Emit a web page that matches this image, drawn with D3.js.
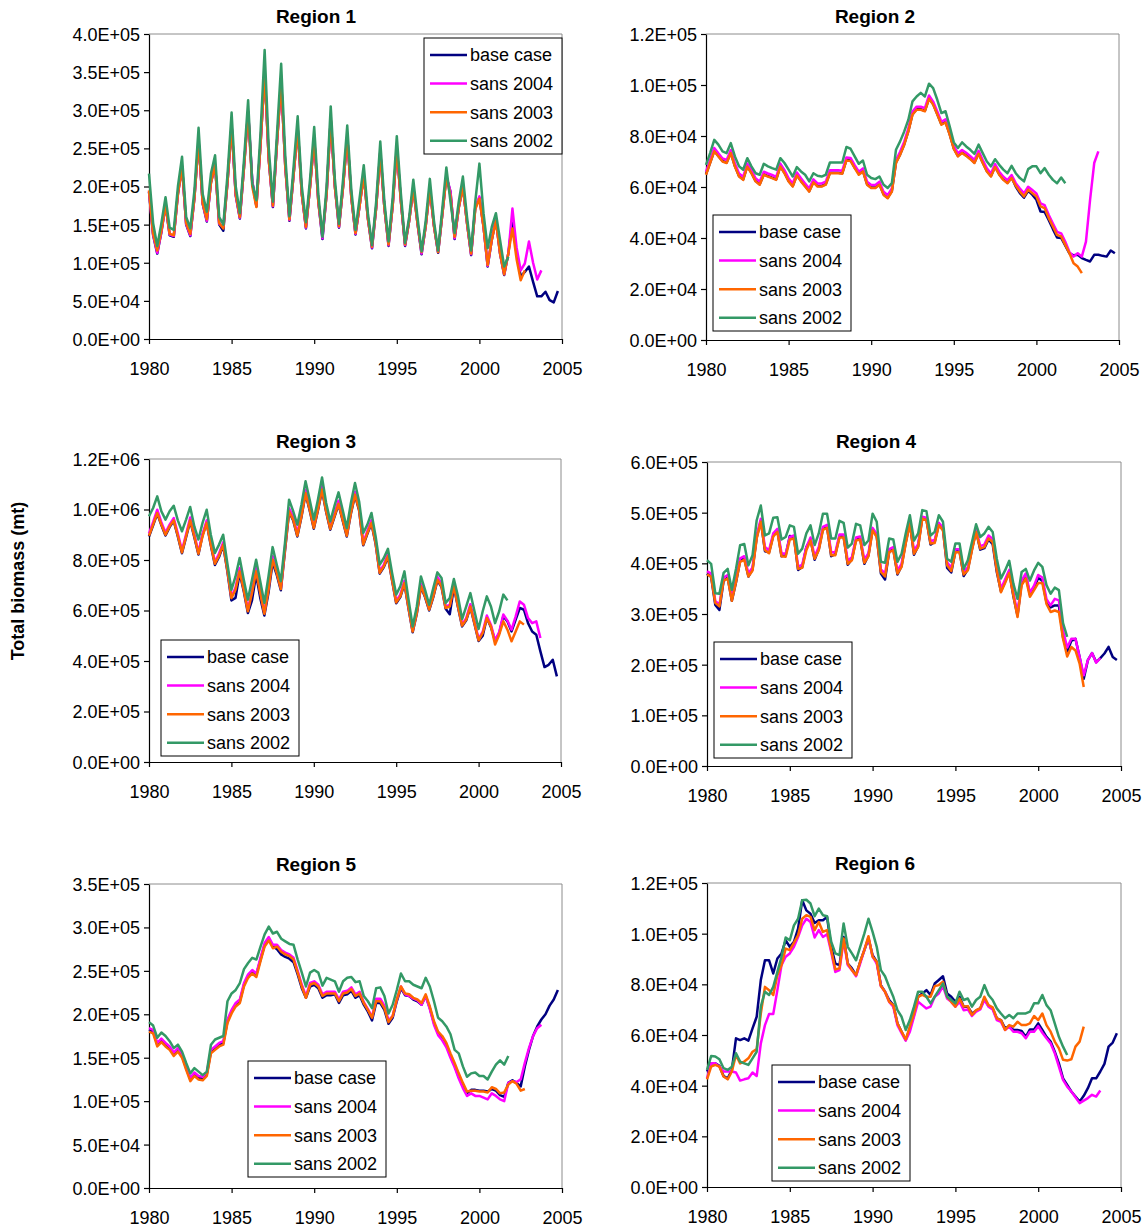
<!DOCTYPE html>
<html>
<head>
<meta charset="utf-8">
<script src="https://cdn.jsdelivr.net/npm/d3@7"></script>
<style>
  body { margin: 0; background: #fff; }
  svg { display: block; font-family: Arial, "Liberation Sans", sans-serif; }
</style>
</head>
<body>
<svg id="chart" width="1148" height="1230"></svg>
<script>
// Quarterly total biomass, thousands of mt; first value is 1980 Q1.
const startYear = 1980;
const seriesNames = ["base case", "sans 2004", "sans 2003", "sans 2002"];
const seriesColors = ["#000080", "#FF00FF", "#FF6600", "#339966"];
const xTicks = [1980, 1985, 1990, 1995, 2000, 2005];

// Region 1
const r1Base = [193,136,112,140, 176,136,134,190, 226,150,135,185, 260,177,154,205, 228,150,142,205, 280,188,158,225, 298,207,174,255, 350,235,173,258, 338,226,155,215, 276,190,145,200, 263,180,131,190, 288,200,146,200, 265,185,137,175, 215,158,119,172, 245,172,122,175, 250,180,122,155, 198,152,111,148, 198,148,113,162, 213,193,131,172, 200,152,110,172, 185,147,95,130, 156,112,84,112, 156,112,82,88, 95,75,56,56, 62,51,48,63];
const r1Sans2004 = [194,137,113,141, 177,137,135,191, 227,151,136,186, 261,178,155,206, 229,151,147,206, 281,189,159,226, 299,207,175,256, 351,236,174,259, 339,227,156,216, 277,191,146,201, 264,181,132,191, 289,201,147,201, 266,186,138,176, 216,159,120,173, 246,173,123,176, 251,181,123,156, 199,153,112,149, 199,149,114,163, 214,193,132,173, 201,153,111,173, 187,148,96,131, 157,113,85,112, 171,120,90,99, 128,100,78,90];
const r1Sans2003 = [195,138,116,142, 176,138,136,190, 226,152,138,185, 260,178,157,205, 228,152,145,205, 280,190,160,225, 298,200,173,255, 350,235,175,258, 338,226,157,215, 276,190,147,200, 263,180,136,190, 288,200,148,200, 265,185,139,175, 215,158,121,172, 244,172,124,175, 250,180,124,155, 198,152,114,148, 198,148,114,162, 212,188,134,172, 200,152,112,170, 184,147,97,130, 155,112,85,112, 145,105,77,90];
const r1Sans2002 = [217,152,122,152, 186,146,143,200, 239,160,145,195, 277,190,167,217, 241,160,150,215, 297,200,165,235, 313,204,182,270, 379,250,180,270, 361,240,161,225, 292,200,153,210, 278,190,134,200, 305,210,151,210, 280,195,143,185, 228,165,123,180, 259,180,128,185, 266,190,126,160, 209,160,115,155, 210,155,116,170, 225,180,139,180, 213,160,116,180, 230,165,119,147, 165,130,95,108];

// Region 2
const r2Base = [65.0,69.6,74.2,72.2, 70.2,69.6,73.5,68.2, 64.3,63.0,68.2,65.6, 62.4,61.1,65.0,64.3, 63.7,63.0,68.2,65.6, 62.4,60.4,64.7,62.4, 60.4,58.4,62.0,60.4, 60.4,61.1,65.6,65.6, 65.6,65.4,70.6,70.4, 67.6,65.5,66.3,61.1, 59.8,59.8,61.1,57.1, 55.8,58.4,69.6,72.8, 76.8,82.0,88.6,90.5, 90.5,89.9,94.8,92.5, 88.6,84.6,85.5,80.7, 75.1,72.2,73.5,72.4, 71.1,69.6,73.2,69.6, 66.3,64.3,68.0,65.0, 63.0,61.7,63.7,60.2, 57.6,55.8,58.5,57.0, 55.0,50.4,50.2,47.0, 43.5,40.2,40.0,37.0, 34.0,33.2,33.4,32.1, 31.4,30.8,33.4,33.4, 33.0,32.7,35.1,34.0];
const r2Sans2004 = [66.0,70.6,75.3,73.2, 71.2,70.6,74.5,69.2, 65.3,64.0,69.2,66.6, 63.4,62.1,66.0,65.3, 64.7,64.0,69.2,66.6, 63.4,61.4,65.7,63.4, 61.4,59.4,63.0,61.4, 61.4,62.1,66.6,66.6, 66.6,66.4,71.6,71.4, 68.6,66.0,67.3,62.1, 60.8,60.8,62.1,58.1, 56.8,59.4,70.6,73.8, 77.8,83.0,89.6,91.5, 91.5,90.9,95.9,93.5, 89.6,85.6,86.5,81.7, 76.1,73.2,74.5,73.4, 72.1,70.6,74.2,70.6, 67.3,65.3,69.0,66.0, 64.0,62.7,64.7,61.5, 59.4,57.5,60.1,58.8, 57.5,53.6,52.9,49.0, 45.7,42.4,41.8,38.5, 34.5,32.7,34.0,32.7, 38.6,55.0,69.4,74.0];
const r2Sans2003 = [64.8,69.4,74.0,72.0, 70.0,69.4,73.3,68.0, 64.1,62.8,68.0,65.4, 62.2,60.9,64.8,64.1, 63.5,62.8,68.0,65.4, 62.2,60.2,64.5,62.2, 60.2,58.2,61.8,60.2, 60.2,60.9,65.4,65.4, 65.4,65.2,70.4,70.2, 67.4,64.8,66.1,60.9, 59.6,59.6,60.9,56.9, 55.6,58.2,69.4,72.6, 76.6,81.8,88.4,90.3, 90.3,89.7,94.6,92.3, 88.4,84.4,85.3,80.5, 74.9,72.0,73.3,72.2, 70.9,69.4,73.0,69.4, 66.1,64.1,67.8,64.8, 62.8,61.5,63.5,60.5, 58.2,56.3,58.9,57.6, 56.3,52.4,51.7,47.8, 44.5,41.2,40.6,37.3, 34.0,30.1,28.8,26.2];
const r2Sans2002 = [68.7,73.3,78.5,76.6, 74.0,73.3,77.2,72.0, 68.1,66.8,71.3,68.1, 65.4,64.8,69.1,68.1, 67.4,66.8,71.3,69.4, 66.8,64.1,67.8,66.1, 64.8,62.2,65.4,64.4, 64.1,64.8,69.6,69.6, 69.6,69.6,75.7,75.0, 72.0,69.1,70.4,64.8, 63.5,63.1,64.1,60.9, 59.6,61.5,74.6,77.9, 81.8,86.4,93.6,95.5, 96.9,95.5,100.5,98.8, 94.2,89.0,89.7,83.8, 77.5,75.3,77.5,75.9, 74.6,73.0,76.6,73.3, 70.0,68.1,70.9,68.7, 66.8,65.4,68.3,65.4, 63.5,62.2,67.0,68.1, 68.1,65.4,67.4,64.8, 62.8,61.5,63.7,61.5];

// Region 3
const r3Base = [893,937,984,938, 897,930,955,893, 827,890,955,890, 822,900,945,858, 780,812,858,757, 640,650,748,676, 590,640,742,650, 580,670,790,742, 680,835,990,957, 893,970,1062,996, 924,996,1076,990, 920,970,1020,957, 893,983,1056,996, 858,904,944,864, 746,772,812,719, 629,653,706,607, 514,587,693,653, 600,653,719,693, 607,585,693,613, 537,561,613,547, 479,500,570,534, 480,510,577,557, 517,564,610,603, 550,517,504,438, 376,385,405,339];
const r3Sans2004 = [905,950,999,950, 908,940,966,905, 838,902,968,902, 832,902,957,870, 792,826,870,770, 655,690,768,690, 603,678,770,678, 593,690,815,757, 690,850,1005,970, 905,983,1078,1010, 935,1010,1092,1003, 930,983,1035,970, 905,995,1070,1010, 868,915,958,876, 755,782,825,730, 638,663,718,617, 522,597,705,662, 609,663,733,705, 616,622,706,622, 545,570,625,556, 487,516,580,543, 482,515,584,560, 524,577,636,623, 570,550,557,491];
const r3Sans2003 = [896,940,986,940, 900,933,957,896, 830,894,957,894, 825,894,947,861, 785,817,861,762, 649,682,755,682, 597,669,755,669, 587,682,801,749, 685,841,993,960, 896,973,1065,999, 927,999,1079,993, 923,973,1023,960, 896,986,1059,999, 861,907,947,867, 749,775,815,722, 632,656,709,610, 517,590,696,656, 603,656,722,696, 610,616,696,616, 540,564,616,550, 482,511,570,537, 465,504,557,524, 478,517,557,544];
const r3Sans2002 = [973,1006,1052,993, 960,993,1015,957, 914,960,1010,933, 881,947,999,900, 828,861,900,788, 682,735,808,722, 643,722,801,716, 630,735,851,782, 716,867,1039,993, 940,1019,1112,1039, 960,1039,1127,1026, 953,1013,1068,999, 927,1026,1105,1032, 907,940,986,894, 782,808,844,749, 663,696,755,643, 537,616,735,682, 623,689,751,729, 630,649,725,656, 566,616,669,597, 527,597,656,616, 550,597,663,640];

// Region 4
const r4Base = [380,373,318,308, 365,372,326,362, 405,410,374,388, 451,484,424,422, 455,465,414,416, 454,452,387,393, 432,447,407,428, 468,472,414,418, 453,453,397,408, 447,449,399,416, 467,453,380,368, 423,428,378,395, 441,480,417,434, 490,487,437,442, 477,467,391,382, 424,424,375,388, 428,464,427,430, 447,438,383,345, 364,384,335,297, 362,376,338,352, 371,366,323,313, 317,317,254,226, 247,251,215,172, 209,223,205,213, 222,235,215,209];
const r4Sans2004 = [384,380,326,318, 372,377,332,369, 410,414,380,392, 455,488,432,426, 459,468,420,419, 452,455,394,397, 432,451,414,432, 472,476,422,422, 457,457,405,412, 451,453,407,420, 470,458,388,380, 428,432,386,399, 445,484,425,438, 492,490,444,446, 480,470,402,391, 428,428,384,392, 432,467,434,437, 455,448,392,350, 368,387,343,300, 366,380,342,356, 377,372,329,317, 330,327,267,234, 251,251,215,179, 209,223,204,213];
const r4Sans2003 = [378,374,322,315, 366,370,326,363, 403,407,374,386, 449,482,426,420, 453,462,414,413, 447,449,389,391, 426,445,409,426, 466,470,416,416, 451,451,399,406, 445,447,401,414, 465,452,383,374, 422,426,380,393, 439,478,419,432, 488,485,439,440, 475,465,396,385, 422,422,378,386, 426,462,429,432, 449,442,386,343, 361,381,337,294, 357,370,334,347, 361,361,320,304, 307,304,251,216, 235,228,202,156];
const r4Sans2002 = [406,399,341,340, 381,389,348,389, 436,438,396,416, 485,514,455,459, 490,491,447,452, 475,472,419,429, 459,475,436,459, 498,498,449,449, 484,480,431,439, 478,475,436,445, 498,482,403,401, 449,447,403,419, 459,495,445,459, 505,503,455,462, 495,482,409,403, 439,439,389,406, 442,477,452,459, 472,462,409,370, 386,405,360,330, 383,389,366,386, 401,393,357,340, 352,347,282,255];

// Region 5
const r5Base = [182,180,165,170, 165,161,154,159, 152,138,125,131, 127,126,131,157, 161,165,167,192, 203,211,215,234, 244,249,246,263, 280,287,278,275, 269,266,264,260, 246,230,219,232, 234,230,219,222, 222,223,213,222, 223,227,219,222, 211,203,193,213, 213,205,189,196, 215,230,222,221, 217,215,211,221, 207,190,178,173, 165,152,141,128, 118,109,113,113, 112,112,111,114, 112,107,105,121, 124,121,117,140, 159,175,186,194, 200,210,217,228];
const r5Sans2004 = [184,182,167,172, 167,163,156,161, 154,140,127,133, 129,128,133,159, 163,167,169,194, 205,213,217,236, 246,251,247,265, 282,289,280,280, 274,271,269,265, 250,234,221,236, 238,234,223,226, 226,226,217,226, 227,231,223,226, 214,206,197,218, 218,210,193,198, 217,232,223,221, 218,216,211,221, 206,188,176,170, 162,150,139,126, 115,106,109,106, 106,104,102,109, 106,102,100,121, 123,122,125,144, 161,175,184,188];
const r5Sans2003 = [180,178,163,168, 163,159,152,157, 150,136,123,129, 125,124,129,155, 159,163,165,190, 201,209,213,232, 242,247,243,261, 278,285,276,278, 272,269,267,263, 248,232,219,234, 236,232,221,224, 224,224,215,224, 225,229,221,224, 213,205,196,215, 215,207,191,198, 217,232,224,223, 219,217,213,223, 209,192,180,175, 167,155,144,132, 121,111,112,112, 111,111,110,116, 114,109,110,119, 123,120,112,114];
const r5Sans2002 = [191,187,173,179, 175,169,161,165, 157,144,132,138, 134,130,134,165, 171,173,175,215, 224,228,236,252, 259,265,263,278, 292,301,293,295, 287,284,281,280, 263,248,232,248, 251,248,233,242, 240,238,226,238, 242,243,237,238, 221,215,207,230, 231,221,201,211, 228,247,238,238, 234,232,230,242, 232,215,196,192, 186,177,159,155, 140,128,132,133, 129,129,125,134, 142,147,142,152];

// Region 6
const r6Base = [45.6,48.8,48.8,47.8, 43.8,42.9,46.2,58.7, 58.0,58.7,57.8,62.6, 67.2,81.7,89.5,89.5, 84.3,90.2,92.2,97.4, 94.8,96.8,102.0,113.2, 109.2,107.9,104.2,105.3, 105.3,106.6,94.8,88.2, 87.6,98.7,88.2,86.3, 83.6,88.9,93.5,98.1, 91.5,88.9,79.7,77.1, 73.8,71.8,64.6,61.3, 58.0,62.6,67.9,75.1, 76.4,77.7,75.8,80.3, 81.7,83.2,76.4,75.1, 73.1,75.1,71.2,71.2, 68.5,69.6,70.5,74.4, 71.4,70.5,66.6,65.9, 62.6,63.5,62.0,62.0, 61.6,59.3,62.2,62.2, 64.6,62.0,59.3,57.4, 53.4,48.8,42.9,40.3, 37.7,35.7,33.7,36.0, 39.0,42.9,42.9,45.6, 48.6,55.4,57.0,60.7];
const r6Sans2004 = [42.9,48.8,48.8,47.5, 45.6,45.6,45.6,45.2, 42.0,42.5,42.9,45.2, 43.8,56.7,63.9,68.3, 68.3,77.7,87.6,90.9, 92.2,94.8,98.7,103.3, 105.9,104.6,98.5,101.4, 98.7,99.8,92.8,84.9, 85.6,97.4,87.6,85.6, 83.2,88.2,93.5,98.5, 90.9,88.2,79.3,77.1, 73.1,71.2,63.9,60.7, 57.8,61.3,67.2,73.1, 71.8,70.5,71.2,75.1, 76.4,79.3,74.4,73.1, 71.2,73.1,69.8,70.1, 67.5,69.2,70.1,73.8, 71.2,70.1,65.9,65.2, 62.0,63.3,61.3,61.3, 60.7,58.7,61.3,61.3, 63.5,60.9,58.7,56.7, 52.8,47.5,42.3,39.6, 37.7,35.4,33.1,34.1, 35.1,36.4,35.7,38.1];
const r6Sans2003 = [42.5,47.5,48.2,47.5, 43.6,42.5,45.6,52.1, 48.8,49.5,50.8,53.4, 54.4,68.5,79.0,77.7, 75.8,83.6,87.6,94.1, 93.5,96.4,99.4,105.9, 107.3,106.6,101.4,104.6, 100.7,101.4,93.5,85.9, 86.3,98.1,88.2,85.6, 83.6,88.9,93.5,99.0, 90.9,88.9,79.3,77.1, 73.1,71.8,64.6,61.3, 58.3,63.3,68.5,75.1, 75.8,75.1,75.1,79.3, 79.7,81.0,75.1,73.1, 71.2,74.4,71.2,71.4, 67.9,69.8,70.5,75.1, 71.8,70.9,66.6,65.9, 62.0,63.9,63.3,65.2, 63.9,63.9,64.6,67.5, 65.9,68.5,63.9,61.3, 57.4,54.7,50.2,49.9, 50.4,55.4,57.4,63.3];
const r6Sans2002 = [46.2,51.7,51.5,50.4, 46.9,46.2,47.5,52.8, 49.5,48.8,48.2,50.8, 53.4,71.2,77.1,75.8, 79.0,84.9,90.9,98.5, 97.4,103.3,105.9,113.2, 113.4,111.9,106.9,109.9, 107.3,106.9,96.8,92.2, 91.5,104.0,94.8,92.2, 89.5,94.8,100.0,105.9, 100.7,94.8,85.6,83.2, 79.0,75.1,69.8,67.2, 62.0,65.9,71.2,77.1, 77.1,75.1,72.5,75.1, 77.7,80.3,75.1,73.8, 72.5,77.1,73.8,74.4, 71.2,73.8,75.1,79.7, 75.8,73.8,70.5,68.5, 66.6,67.9,66.6,68.5, 68.5,68.5,69.2,72.5, 72.5,75.8,71.8,69.8, 64.6,59.3,55.4,52.1];

// Panel layout: plot rectangles, axis ranges (thousands of mt) and legend boxes.
const panels = [
  { title: "Region 1", series: [r1Base, r1Sans2004, r1Sans2003, r1Sans2002], yMax: 400, yStep: 50,
    plot: { left: 149, right: 562, top: 34, bottom: 339 }, titleX: 316, titleY: 23, legend: { x: 424, y: 38 } },
  { title: "Region 2", series: [r2Base, r2Sans2004, r2Sans2003, r2Sans2002], yMax: 120, yStep: 20,
    plot: { left: 706, right: 1119, top: 34, bottom: 340 }, titleX: 875, titleY: 23, legend: { x: 713, y: 215 } },
  { title: "Region 3", series: [r3Base, r3Sans2004, r3Sans2003, r3Sans2002], yMax: 1200, yStep: 200,
    plot: { left: 149, right: 561, top: 459, bottom: 762 }, titleX: 316, titleY: 448, legend: { x: 161, y: 640 } },
  { title: "Region 4", series: [r4Base, r4Sans2004, r4Sans2003, r4Sans2002], yMax: 600, yStep: 100,
    plot: { left: 707, right: 1121, top: 462, bottom: 766 }, titleX: 876, titleY: 448, legend: { x: 714, y: 642 } },
  { title: "Region 5", series: [r5Base, r5Sans2004, r5Sans2003, r5Sans2002], yMax: 350, yStep: 50,
    plot: { left: 149, right: 562, top: 884, bottom: 1188 }, titleX: 316, titleY: 871, legend: { x: 248, y: 1061 } },
  { title: "Region 6", series: [r6Base, r6Sans2004, r6Sans2003, r6Sans2002], yMax: 120, yStep: 20,
    plot: { left: 707, right: 1121, top: 883, bottom: 1187 }, titleX: 875, titleY: 870, legend: { x: 772, y: 1065 } }
];

const svg = d3.select("#chart");

// "4.0E+05" style labels from values held in thousands
function sciLabel(v) {
  const s = (v * 1000).toExponential(1);
  const [mant, exp] = s.split("e");
  const sign = exp[0] === "-" ? "-" : "+";
  const digits = exp.replace(/[+-]/, "").padStart(2, "0");
  return mant + "E" + sign + digits;
}

panels.forEach(p => {
  const g = svg.append("g");
  const x = d3.scaleLinear().domain([1980, 2005]).range([p.plot.left, p.plot.right]);
  const y = d3.scaleLinear().domain([0, p.yMax]).range([p.plot.bottom, p.plot.top]);

  // grey frame on top and right
  g.append("path")
    .attr("d", `M${p.plot.left},${p.plot.top}H${p.plot.right}V${p.plot.bottom}`)
    .attr("fill", "none").attr("stroke", "#8c8c8c").attr("stroke-width", 1);

  const yTicks = d3.range(0, p.yMax + p.yStep / 2, p.yStep);
  const yAxis = g.append("g")
    .attr("transform", `translate(${p.plot.left},0)`)
    .call(d3.axisLeft(y).tickValues(yTicks).tickFormat(sciLabel).tickSize(5).tickSizeOuter(0));
  const xAxis = g.append("g")
    .attr("transform", `translate(0,${p.plot.bottom})`)
    .call(d3.axisBottom(x).tickValues(xTicks).tickFormat(d3.format("d")).tickSize(5).tickSizeOuter(0));

  [yAxis, xAxis].forEach(a => {
    a.select(".domain").attr("stroke", "#000").attr("stroke-width", 1.2);
    a.selectAll(".tick line").attr("stroke", "#000").attr("stroke-width", 1.2);
    a.selectAll(".tick text").attr("fill", "#000").attr("font-size", 18)
      .attr("font-family", "Arial, 'Liberation Sans', sans-serif");
  });
  yAxis.selectAll(".tick text").attr("x", -9).attr("dy", "0.36em");
  xAxis.selectAll(".tick text").attr("y", 36).attr("dy", 0);

  // series lines, base case first so sans 2002 sits on top
  const line = d3.line()
    .x((d, i) => x(startYear + i / 4))
    .y(d => y(d));
  p.series.forEach((vals, k) => {
    g.append("path")
      .datum(vals)
      .attr("d", line)
      .attr("fill", "none")
      .attr("stroke", seriesColors[k])
      .attr("stroke-width", 2.5)
      .attr("stroke-linejoin", "round");
  });

  // title
  g.append("text")
    .attr("x", p.titleX).attr("y", p.titleY)
    .attr("text-anchor", "middle")
    .attr("font-size", 19).attr("font-weight", "bold")
    .text(p.title);

  // legend
  const lg = g.append("g").attr("transform", `translate(${p.legend.x},${p.legend.y})`);
  lg.append("rect")
    .attr("width", 138).attr("height", 116)
    .attr("fill", "#fff").attr("stroke", "#000").attr("stroke-width", 1);
  seriesNames.forEach((name, k) => {
    const cy = 17 + k * 28.6;
    lg.append("line")
      .attr("x1", 6).attr("x2", 43).attr("y1", cy).attr("y2", cy)
      .attr("stroke", seriesColors[k]).attr("stroke-width", 2.5);
    lg.append("text")
      .attr("x", 46).attr("y", cy).attr("dy", "0.36em")
      .attr("font-size", 18)
      .text(name);
  });
});

// shared y axis title
svg.append("text")
  .attr("transform", "translate(24,581) rotate(-90)")
  .attr("text-anchor", "middle")
  .attr("font-size", 18).attr("font-weight", "bold")
  .text("Total biomass (mt)");
</script>
</body>
</html>
